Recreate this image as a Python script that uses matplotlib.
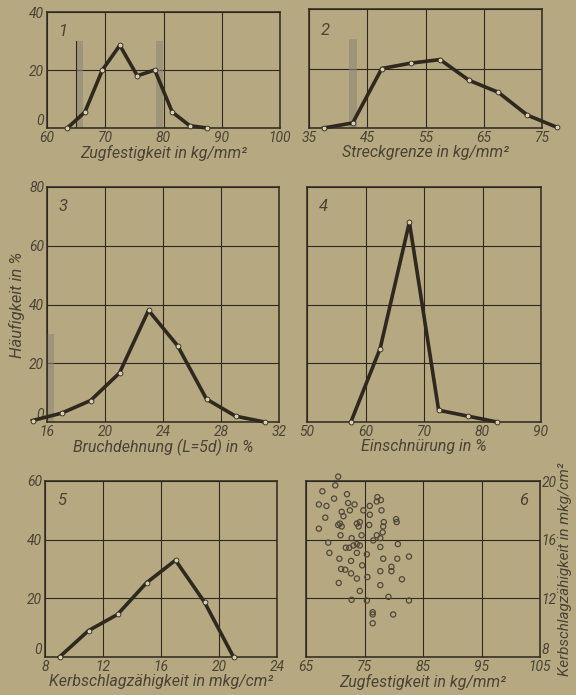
import matplotlib
matplotlib.use("Agg")
import matplotlib.pyplot as plt

# panel 1: tensile strength
zug_x = [63.5, 66.5, 69.5, 72.5, 75.5, 78.5, 81.5, 84.5, 87.5]
zug_y = [0, 5.5, 20, 28.5, 18, 20, 5.5, 0.8, 0]
zug_marks = [65.6, 79.3]

# panel 2: yield point
streck_x = [37.5, 42.5, 47.5, 52.5, 57.5, 62.5, 67.5, 72.5, 77.5]
streck_y = [0, 1.7, 20, 21.8, 23, 16, 12, 4.3, 0.3]
streck_marks = [42.6]

# panel 3: elongation
dehn_x = [15, 17, 19, 21, 23, 25, 27, 29, 31]
dehn_y = [0.5, 3, 7.3, 16.7, 38, 26, 7.8, 2, 0]
dehn_marks = [16.25]

# panel 4: reduction of area
einsch_x = [57.5, 62.5, 67.5, 72.5, 77.5, 82.5]
einsch_y = [0, 25, 68, 4, 2, 0]

# panel 5: notch impact
kerb_x = [9, 11, 13, 15, 17, 19, 21]
kerb_y = [0, 9, 14.5, 25.3, 33, 18.7, 0]

# panel 6: scatter tensile strength vs notch impact
sc_x = [70.0, 67.8, 72.0, 69.8, 67.2, 68.5, 72.2, 73.3, 71.1, 72.5, 71.4, 68.3,
        74.8, 75.9, 77.2, 77.8, 77.1, 77.9, 75.9, 70.8, 70.5, 73.7, 74.2, 75.8,
        67.2, 71.1, 74.0, 78.3, 78.2, 80.4, 80.5, 78.1, 77.1, 77.7, 76.5, 72.8,
        74.5, 70.9, 68.8, 71.8, 72.4, 73.1, 73.7, 74.2, 69.0, 73.7, 75.4, 77.7,
        80.7, 70.7, 72.7, 74.6, 78.2, 80.6, 82.6, 71.0, 71.7, 72.7, 77.7, 79.6,
        79.6, 73.7, 75.5, 70.6, 77.7, 81.4, 74.2, 72.8, 75.4, 79.1, 82.6, 76.4,
        76.4, 79.9, 76.4, 70.5]
sc_y = [19.7, 19.3, 19.1, 18.8, 18.4, 18.3, 18.5, 18.4, 17.9, 18.0, 17.6, 17.5,
        18.0, 18.3, 18.9, 18.7, 18.6, 18.0, 17.7, 17.1, 17.0, 17.1, 17.2, 17.0,
        16.75, 16.9, 16.9, 17.2, 16.9, 17.4, 17.2, 16.5, 16.3, 16.1, 15.95, 16.1,
        16.3, 16.3, 15.8, 15.45, 15.45, 15.6, 15.7, 15.6, 15.1, 15.1, 15.0, 15.5,
        15.7, 14.7, 14.55, 14.25, 14.7, 14.7, 14.85, 14.0, 13.95, 13.7, 13.85, 14.15,
        13.85, 13.35, 13.45, 13.05, 12.9, 13.3, 12.5, 11.9, 11.85, 12.1, 11.85, 11.05,
        10.9, 10.9, 10.3, 20.3]

BG = "#b6a982"
INK = "#2e281f"
TXT = "#4a4335"
BAR = "#8e8674"

W, H = 576, 695
font = dict(family=["Roboto", "DejaVu Sans"], style="italic", color=TXT)


def make_ax(fig, left, right, top, bottom):
    return fig.add_axes([left / W, 1 - bottom / H, (right - left) / W, (bottom - top) / H])


def style_ax(ax, xlim, ylim, xticks, yticks, show_y=True, right=False):
    ax.set_facecolor(BG)
    ax.set_xlim(*xlim)
    ax.set_ylim(*ylim)
    ax.set_xticks(xticks)
    ax.set_yticks(yticks)
    ax.grid(True, color=INK, linewidth=0.8)
    ax.set_axisbelow(True)
    for s in ax.spines.values():
        s.set_color(INK)
        s.set_linewidth(1.1)
    ax.tick_params(length=0, pad=2, labelsize=10, labelcolor=TXT)
    ax.set_xticklabels([str(t) for t in xticks], **font)
    if show_y:
        ax.set_yticklabels([str(t) for t in yticks], **font)
        if right:
            ax.yaxis.tick_right()
        # lowest label sits just above the corner, like the original
        ax.get_yticklabels()[0].set_va("bottom")
    else:
        ax.set_yticklabels([])


def curve(ax, xs, ys):
    ax.plot(xs, ys, color=INK, linewidth=2.6, marker="o", markersize=3.5,
            markerfacecolor="#d8cfb0", markeredgecolor=INK, markeredgewidth=0.6,
            clip_on=False, zorder=3)


def marks(ax, xs, width):
    ax.bar(xs, [30] * len(xs), width=width, color=BAR, alpha=0.6, zorder=1.5)


fig = plt.figure(figsize=(W / 100, H / 100), dpi=100)
fig.patch.set_facecolor(BG)

# 1
ax1 = make_ax(fig, 47, 280, 12, 128)
style_ax(ax1, (60, 100), (0, 40), [60, 70, 80, 90, 100], [0, 20, 40])
marks(ax1, zug_marks, 1.3)
ax1.axvline(65, ymax=0.75, color=INK, linewidth=0.8, zorder=2)
curve(ax1, zug_x, zug_y)
ax1.set_xlabel("Zugfestigkeit in kg/mm²", fontsize=11.5, labelpad=0, **font)
ax1.text(0.05, 0.9, "1", transform=ax1.transAxes, fontsize=12, va="top", **font)

# 2
ax2 = make_ax(fig, 309, 542, 9, 128)
style_ax(ax2, (35, 75), (0, 40), [35, 45, 55, 65, 75], [0, 20, 40], show_y=False)
marks(ax2, streck_marks, 1.3)
curve(ax2, streck_x, streck_y)
ax2.set_xlabel("Streckgrenze in kg/mm²", fontsize=11.5, labelpad=0, **font)
ax2.text(0.05, 0.88, "2", transform=ax2.transAxes, fontsize=12, va="top", **font)

# 3
ax3 = make_ax(fig, 47, 279, 187, 422)
style_ax(ax3, (16, 32), (0, 80), [16, 20, 24, 28, 32], [0, 20, 40, 60, 80])
marks(ax3, dehn_marks, 0.5)
curve(ax3, dehn_x, dehn_y)
ax3.set_xlabel("Bruchdehnung (L=5d) in %", fontsize=11.5, labelpad=0, **font)
ax3.set_ylabel("Häufigkeit in %", fontsize=12, labelpad=3, **font)
ax3.text(0.05, 0.95, "3", transform=ax3.transAxes, fontsize=12, va="top", **font)

# 4
ax4 = make_ax(fig, 307, 541, 187, 422)
style_ax(ax4, (50, 90), (0, 80), [50, 60, 70, 80, 90], [0, 20, 40, 60, 80], show_y=False)
curve(ax4, einsch_x, einsch_y)
ax4.set_xlabel("Einschnürung in %", fontsize=11.5, labelpad=0, **font)
ax4.text(0.05, 0.95, "4", transform=ax4.transAxes, fontsize=12, va="top", **font)

# 5
ax5 = make_ax(fig, 45, 277, 481, 657)
style_ax(ax5, (8, 24), (0, 60), [8, 12, 16, 20, 24], [0, 20, 40, 60])
curve(ax5, kerb_x, kerb_y)
ax5.set_xlabel("Kerbschlagzähigkeit in mkg/cm²", fontsize=11.5, labelpad=0, **font)
ax5.text(0.05, 0.93, "5", transform=ax5.transAxes, fontsize=12, va="top", **font)

# 6
ax6 = make_ax(fig, 306, 540, 481, 657)
style_ax(ax6, (65, 105), (8, 20), [65, 75, 85, 95, 105], [8, 12, 16, 20], right=True)
ax6.tick_params(axis="y", pad=1)
ax6.scatter(sc_x, sc_y, s=14, facecolors="none", edgecolors="#4f4839", linewidths=0.9,
            clip_on=False, zorder=3)
ax6.set_xlabel("Zugfestigkeit in kg/mm²", fontsize=11.5, labelpad=0, **font)
ax6.yaxis.set_label_position("right")
ax6.set_ylabel("Kerbschlagzähigkeit in mkg/cm²", fontsize=11, labelpad=1, **font)
ax6.text(0.95, 0.93, "6", transform=ax6.transAxes, fontsize=12, va="top", ha="right", **font)

fig.savefig("out.png", dpi=100, facecolor=BG)
